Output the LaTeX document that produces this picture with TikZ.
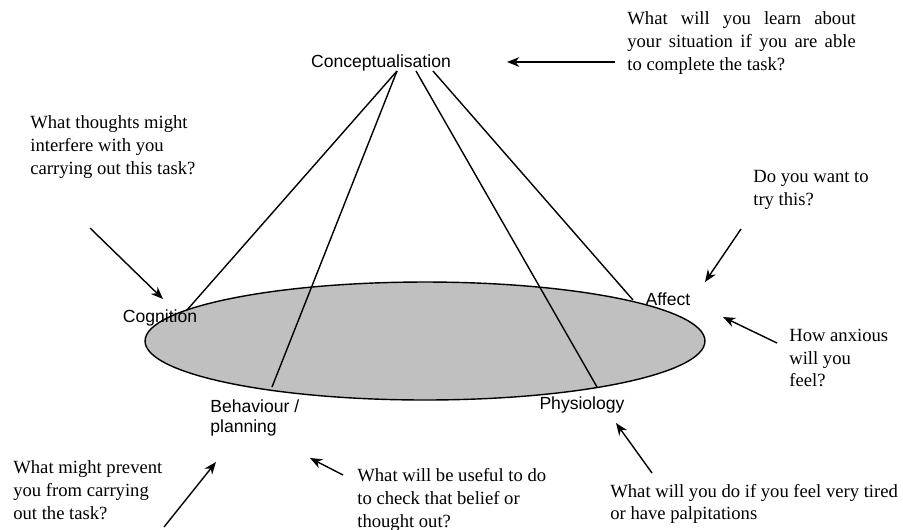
\documentclass[tikz,border=0pt]{standalone}
\usepackage{fontspec}
\setmainfont{Liberation Serif}
\setsansfont{Liberation Sans}
\usetikzlibrary{arrows.meta,shapes.geometric}
\definecolor{discgray}{RGB}{192,192,192}

\begin{document}
\begin{tikzpicture}[
            x=0.02cm, y=-0.02cm,
            area/.style={
                font=\sffamily\fontsize{10}{11.2}\selectfont,
                inner sep=0pt,
                align=left
            },
            question/.style={
                font=\fontsize{10.6}{12.9}\selectfont,
                inner sep=0pt,
                anchor=west,
                align=left
            },
            link/.style={thick},
            prompt/.style={->, >={Stealth[length=7pt,width=5.5pt]}, thick}
        ]
            \useasboundingbox (0,0) rectangle (903,529);

            \node[ellipse, draw, thick, fill=discgray,
                minimum width=11.2cm, minimum height=2.36cm, inner sep=0pt]
                (disc) at (425,341) {};

            % the five areas
            \node[area] (concept) at (381,63) {Conceptualisation};
            \node[area] (cognition) at (160,318) {Cognition};
            \node[area] (affect) at (668,299) {Affect};
            \node[area, anchor=west] (behaviour) at (210,418) {Behaviour /\\planning};
            \node[area] (physiology) at (582,405) {Physiology};

            % where the links meet the disc
            \coordinate (apexL) at (397,71);
            \coordinate (apexM) at (416,71);
            \coordinate (apexR) at (433,71);
            \coordinate (cogEnd) at (187,310);
            \coordinate (behEnd) at (272,387);
            \coordinate (phyEnd) at (597,387);
            \coordinate (affEnd) at (633,300);

            \draw[link] (apexL) -- (cogEnd);
            \draw[link] (apexL) -- (behEnd);
            \draw[link] (apexM) -- (phyEnd);
            \draw[link] (apexR) -- (affEnd);

            % questions
            \node[question, align=justify, text width=130pt] (qlearn) at (627,43)
                {What will you learn about\linebreak your situation if you are able\linebreak to complete the task?};
            \node[question] (qthought) at (30,147)
                {What thoughts might\\interfere with you\\carrying out this task?};
            \node[question] (qtry) at (753,190)
                {Do you want to\\try this?};
            \node[question] (qanxious) at (789,358)
                {How anxious\\will you\\feel?};
            \node[question] (qprevent) at (13,490)
                {What might prevent\\you from carrying\\out the task?};
            \node[question] (quseful) at (357,500)
                {What will be useful to do\\to check that belief or\\thought out?};
            \node[question] (qtired) at (610,504)
                {What will you do if you feel very tired\\or have palpitations};

            % arrows from the questions
            \coordinate (learnTail) at (615,62);
            \coordinate (learnHead) at (507,62);
            \coordinate (thoughtTail) at (90,228);
            \coordinate (thoughtHead) at (163,299);
            \coordinate (tryTail) at (741,229);
            \coordinate (tryHead) at (705,282);
            \coordinate (anxiousTail) at (777,343);
            \coordinate (anxiousHead) at (723,317);
            \coordinate (preventTail) at (164,527);
            \coordinate (preventHead) at (216,462);
            \coordinate (usefulTail) at (343,475);
            \coordinate (usefulHead) at (310,458);
            \coordinate (tiredTail) at (652,473);
            \coordinate (tiredHead) at (616,423);

            \draw[prompt] (learnTail) -- (learnHead);
            \draw[prompt] (thoughtTail) -- (thoughtHead);
            \draw[prompt] (tryTail) -- (tryHead);
            \draw[prompt] (anxiousTail) -- (anxiousHead);
            \draw[prompt] (preventTail) -- (preventHead);
            \draw[prompt] (usefulTail) -- (usefulHead);
            \draw[prompt] (tiredTail) -- (tiredHead);

        \end{tikzpicture}
\end{document}
